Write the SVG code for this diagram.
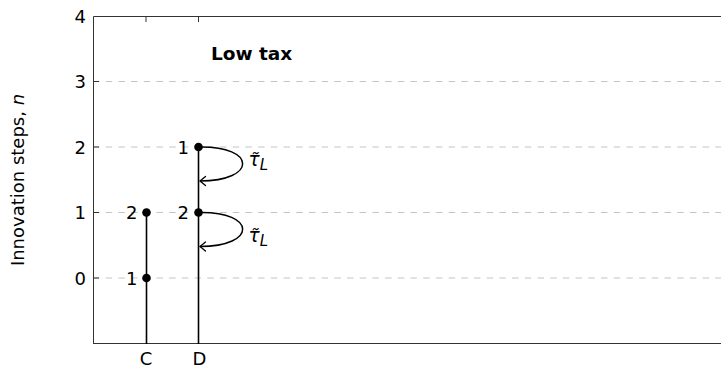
<svg xmlns="http://www.w3.org/2000/svg" width="721" height="369" viewBox="0 0 721 369">
<style>
text { font-family: "DejaVu Sans", "Liberation Sans", sans-serif; fill: #000; }
.tick { font-size: 18px; text-anchor: end; }
.grid { stroke: #c4c4c4; stroke-width: 1; stroke-dasharray: 6.5 6.2; fill: none; }
.axis { stroke: #333; stroke-width: 1; fill: none; }
.stem { stroke: #000; stroke-width: 1.6; fill: none; }
.loop { stroke: #000; stroke-width: 1.5; fill: none; marker-end: url(#arr); }
.dot { fill: #000; }
.plabel { font-size: 18px; text-anchor: end; }
.tau { font-size: 18.5px; font-style: italic; }
</style>
<defs>
<marker id="arr" markerUnits="userSpaceOnUse" markerWidth="14" markerHeight="14" viewBox="-10 -7 14 14" refX="0" refY="0" orient="auto">
<path d="M -5.5,-4.5 Q -1.5,-1.2 0,0 Q -1.5,1.2 -5.5,4.5" fill="none" stroke="#000" stroke-width="1.3" stroke-linecap="round"/>
</marker>
</defs>
<g id="grid">
<line class="grid" x1="93" y1="81.5" x2="721" y2="81.5"/>
<line class="grid" x1="93" y1="147" x2="721" y2="147"/>
<line class="grid" x1="93" y1="212.5" x2="721" y2="212.5"/>
<line class="grid" x1="93" y1="278" x2="721" y2="278"/>
</g>
<g id="axes">
<path class="axis" d="M93.5,344 V16.5 H721"/>
<line class="axis" x1="93" y1="343.5" x2="721" y2="343.5"/>
<line class="axis" x1="146" y1="16" x2="146" y2="22"/>
<line class="axis" x1="198.5" y1="16" x2="198.5" y2="22"/>
<line class="axis" x1="93" y1="81.5" x2="99" y2="81.5"/>
<line class="axis" x1="93" y1="147" x2="99" y2="147"/>
<line class="axis" x1="93" y1="212.5" x2="99" y2="212.5"/>
<line class="axis" x1="93" y1="278" x2="99" y2="278"/>
<text class="tick" x="86" y="23">4</text>
<text class="tick" x="86" y="88">3</text>
<text class="tick" x="86" y="153.5">2</text>
<text class="tick" x="86" y="219">1</text>
<text class="tick" x="86" y="284.5">0</text>
<text x="146" y="364.5" font-size="18" text-anchor="middle">C</text>
<text x="199.5" y="364.5" font-size="18" text-anchor="middle">D</text>
<text transform="translate(24,180) rotate(-90)" font-size="18" text-anchor="middle">Innovation steps, <tspan font-style="italic">n</tspan></text>
</g>
<text id="title" x="211" y="60" font-size="18.5" font-weight="bold">Low tax</text>
<g id="connectors">
<line class="stem" x1="146.5" y1="212.5" x2="146.5" y2="344"/>
<line class="stem" x1="198.5" y1="147" x2="198.5" y2="344"/>
<path class="loop" d="M199,147 C257,146 257,181 200,181"/>
<path class="loop" d="M199,212.5 C257,211.5 257,246.5 200,246.5"/>
<text class="tau" x="248.5" y="166">τ̃<tspan font-size="15" dy="4">L</tspan></text>
<text class="tau" x="248.5" y="242">τ̃<tspan font-size="15" dy="4">L</tspan></text>
</g>
<g id="nodeC1"><circle class="dot" cx="146.5" cy="278" r="4.3"/><text class="plabel" x="137.5" y="284.5">1</text></g>
<g id="nodeC2"><circle class="dot" cx="146.5" cy="212.5" r="4.3"/><text class="plabel" x="137.5" y="219">2</text></g>
<g id="nodeD2"><circle class="dot" cx="198.5" cy="212.5" r="4.3"/><text class="plabel" x="189" y="219">2</text></g>
<g id="nodeD1"><circle class="dot" cx="198.5" cy="147" r="4.3"/><text class="plabel" x="189" y="153.5">1</text></g>
</svg>
